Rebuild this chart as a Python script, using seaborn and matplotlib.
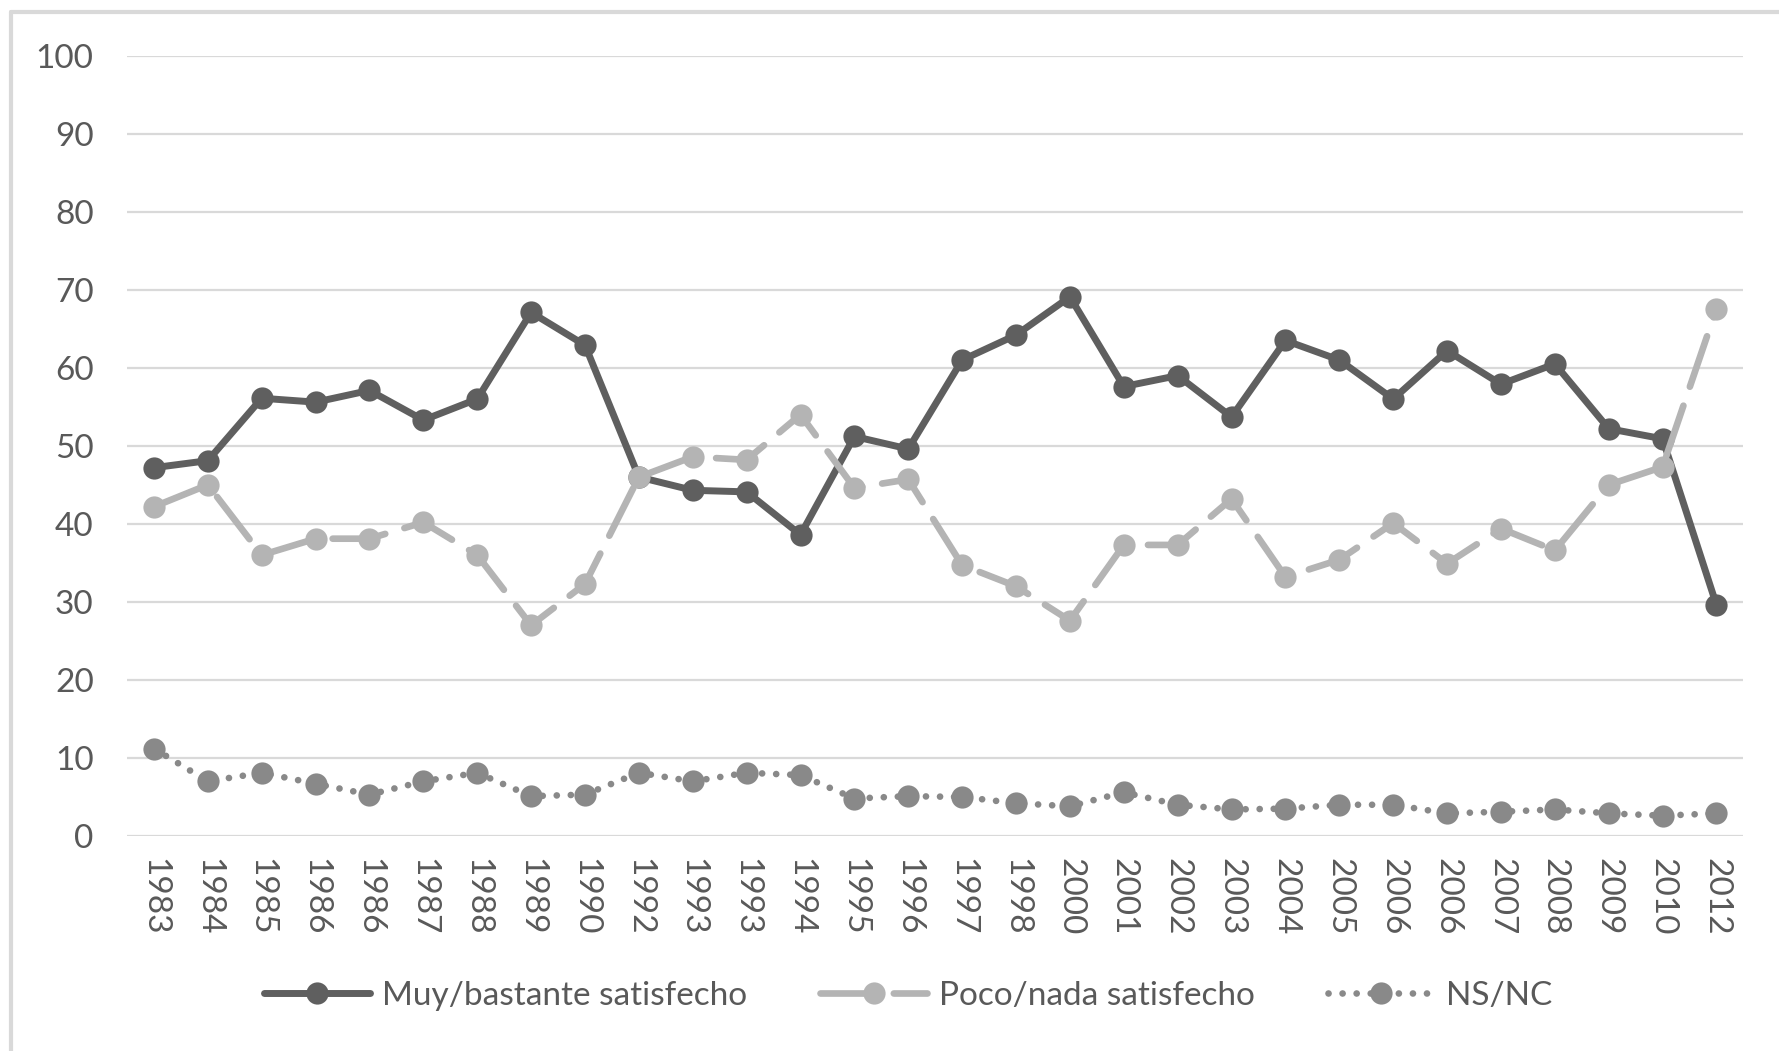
import matplotlib
matplotlib.use("Agg")
import matplotlib.pyplot as plt
import seaborn as sns
import pandas as pd
import numpy as np
from matplotlib.lines import Line2D

years = ['1983', '1984', '1985', '1986', '1986', '1987', '1988', '1989', '1990', '1992',
         '1993', '1993', '1994', '1995', '1996', '1997', '1998', '2000', '2001', '2002',
         '2003', '2004', '2005', '2006', '2006', '2007', '2008', '2009', '2010', '2012']
muy = [47.2, 48.1, 56.1, 55.6, 57.1, 53.3, 56.0, 67.1, 62.9, 46.0,
       44.3, 44.1, 38.6, 51.2, 49.6, 61.0, 64.2, 69.1, 57.6, 59.0,
       53.7, 63.5, 61.0, 56.0, 62.2, 57.9, 60.5, 52.2, 50.9, 29.6]
poco = [42.2, 45.0, 36.0, 38.1, 38.1, 40.2, 36.0, 27.0, 32.3, 46.0,
        48.6, 48.2, 54.0, 44.6, 45.7, 34.7, 32.0, 27.6, 37.3, 37.3,
        43.2, 33.2, 35.4, 40.1, 34.9, 39.4, 36.6, 45.0, 47.3, 67.6]
nsnc = [11.2, 7.0, 8.1, 6.7, 5.3, 7.0, 8.1, 5.1, 5.3, 8.1,
        7.0, 8.1, 7.8, 4.8, 5.1, 5.0, 4.2, 3.8, 5.6, 4.0,
        3.4, 3.5, 4.0, 4.0, 2.9, 3.1, 3.4, 2.9, 2.6, 2.9]
series_names = ['Muy/bastante satisfecho', 'Poco/nada satisfecho', 'NS/NC']

sns.set_style("white")
plt.rcParams['font.family'] = ['Lato', 'DejaVu Sans']
text_col = '#595959'

df = pd.DataFrame({'pos': np.arange(len(years)), 'muy': muy, 'poco': poco, 'nsnc': nsnc})

fig = plt.figure(figsize=(17.79, 10.51), dpi=100)
ax = fig.add_axes([0.0714, 0.2046, 0.9086, 0.7424])

sns.lineplot(data=df, x='pos', y='muy', ax=ax, color='#5f5f5f', lw=5,
             marker='o', markersize=16, markeredgewidth=0,
             solid_joinstyle='round', label=series_names[0])
sns.lineplot(data=df, x='pos', y='poco', ax=ax, color='#b4b4b4', lw=4.8,
             linestyle=(0, (8, 3)), marker='o', markersize=16, markeredgewidth=0,
             dash_capstyle='round', label=series_names[1])
sns.lineplot(data=df, x='pos', y='nsnc', ax=ax, color='#898989', lw=4.8,
             linestyle=(0, (0.01, 2.1)), marker='o', markersize=16, markeredgewidth=0,
             dash_capstyle='round', label=series_names[2])

ax.set_xlim(-0.5, len(years) - 0.5)
ax.set_ylim(0, 100)
ax.set_yticks(range(0, 101, 10))
ax.set_xticks(range(len(years)), labels=years)
ax.yaxis.grid(True, color='#d9d9d9', lw=1.6)
ax.set_axisbelow(True)
for s in ax.spines.values():
    s.set_visible(False)
ax.tick_params(axis='y', length=0, pad=24, labelsize=24, labelcolor=text_col)
ax.tick_params(axis='x', length=0, pad=16, labelsize=24, labelcolor=text_col)
for lab in ax.get_xticklabels():
    lab.set_rotation(-90)
    lab.set_va('top')
    lab.set_ha('center')
ax.set_xlabel('')
ax.set_ylabel('')

handles, labels = ax.get_legend_handles_labels()
ax.get_legend().remove()
fig.legend(handles, labels, loc='center', bbox_to_anchor=(908 / 1779, 1 - 996 / 1051),
           ncol=3, frameon=False, fontsize=24, labelcolor=text_col,
           handlelength=3.2, handletextpad=0.35, columnspacing=2.2)

# chart-area border (left and top only visible)
fig.add_artist(Line2D([11 / 1779, 11 / 1779], [0, 1 - 12 / 1051], transform=fig.transFigure,
                      color='#d9d9d9', lw=3))
fig.add_artist(Line2D([11 / 1779, 1], [1 - 12 / 1051, 1 - 12 / 1051], transform=fig.transFigure,
                      color='#d9d9d9', lw=3))

plt.savefig('out.png', dpi=100)
